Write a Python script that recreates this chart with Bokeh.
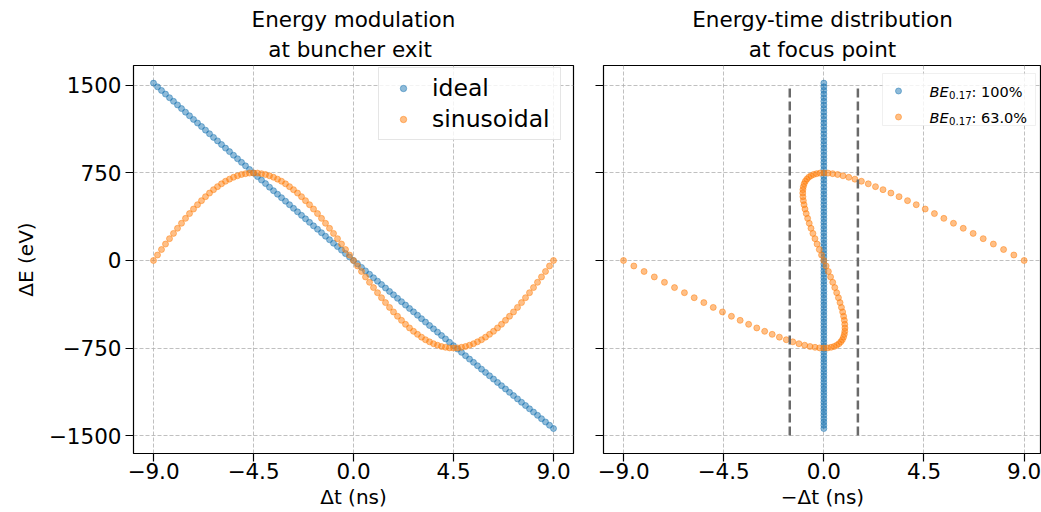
from bokeh.plotting import figure
from bokeh.layouts import row
from bokeh.models import FixedTicker, Range1d, Legend, LegendItem, Label, Title, BoxAnnotation
from bokeh.embed import file_html
from bokeh.resources import INLINE

# ---------------- data ----------------
# time offsets of the macro-particles at buncher exit (ns)
t_ns = [-9.00, -8.82, -8.64, -8.46, -8.28, -8.10, -7.92, -7.74, -7.56, -7.38,
        -7.20, -7.02, -6.84, -6.66, -6.48, -6.30, -6.12, -5.94, -5.76, -5.58,
        -5.40, -5.22, -5.04, -4.86, -4.68, -4.50, -4.32, -4.14, -3.96, -3.78,
        -3.60, -3.42, -3.24, -3.06, -2.88, -2.70, -2.52, -2.34, -2.16, -1.98,
        -1.80, -1.62, -1.44, -1.26, -1.08, -0.90, -0.72, -0.54, -0.36, -0.18,
        0.00, 0.18, 0.36, 0.54, 0.72, 0.90, 1.08, 1.26, 1.44, 1.62,
        1.80, 1.98, 2.16, 2.34, 2.52, 2.70, 2.88, 3.06, 3.24, 3.42,
        3.60, 3.78, 3.96, 4.14, 4.32, 4.50, 4.68, 4.86, 5.04, 5.22,
        5.40, 5.58, 5.76, 5.94, 6.12, 6.30, 6.48, 6.66, 6.84, 7.02,
        7.20, 7.38, 7.56, 7.74, 7.92, 8.10, 8.28, 8.46, 8.64, 8.82, 9.00]

# energy offsets, ideal modulation (eV)
E_ideal = [1520, 1488, 1457, 1426, 1395, 1364, 1333, 1302, 1271, 1240,
           1209, 1178, 1148, 1117, 1086, 1055, 1025, 994, 963, 933,
           902, 872, 841, 811, 780, 750, 719, 689, 659, 628,
           598, 568, 538, 508, 478, 447, 417, 387, 357, 327,
           297, 268, 238, 208, 178, 148, 119, 89, 59, 30,
           0, -30, -59, -89, -118, -148, -177, -206, -236, -265,
           -294, -324, -353, -382, -411, -440, -469, -499, -528, -557,
           -586, -614, -643, -672, -701, -730, -759, -787, -816, -845,
           -873, -902, -931, -959, -988, -1016, -1045, -1073, -1101, -1130,
           -1158, -1186, -1215, -1243, -1271, -1299, -1327, -1356, -1384, -1412, -1440]

# energy offsets, sinusoidal modulation (eV)
E_sin = [0, 47, 94, 141, 187, 232, 276, 319, 361, 402,
         441, 478, 513, 547, 578, 607, 633, 657, 679, 697,
         713, 726, 737, 744, 749, 750, 749, 744, 737, 726,
         713, 697, 679, 657, 633, 607, 578, 547, 513, 478,
         441, 402, 361, 319, 276, 232, 187, 141, 94, 47,
         0, -47, -94, -141, -187, -232, -276, -319, -361, -402,
         -441, -478, -513, -547, -578, -607, -633, -657, -679, -697,
         -713, -726, -737, -744, -749, -750, -749, -744, -737, -726,
         -713, -697, -679, -657, -633, -607, -578, -547, -513, -478,
         -441, -402, -361, -319, -276, -232, -187, -141, -94, -47, 0]

# -delta t at the focus point (ns)
ideal_focus_ns = [0.0] * 101
sin_focus_ns = [9.000, 8.537, 8.076, 7.617, 7.161, 6.709, 6.264, 5.824, 5.392, 4.969,
                4.555, 4.152, 3.760, 3.380, 3.013, 2.659, 2.321, 1.997, 1.688, 1.396,
                1.120, 0.861, 0.620, 0.396, 0.189, 0.000, -0.171, -0.325, -0.460, -0.579,
                -0.680, -0.764, -0.832, -0.883, -0.920, -0.941, -0.947, -0.940, -0.921, -0.888,
                -0.845, -0.791, -0.728, -0.656, -0.577, -0.491, -0.399, -0.303, -0.204, -0.103,
                0.000, 0.103, 0.204, 0.303, 0.399, 0.491, 0.577, 0.656, 0.728, 0.791,
                0.845, 0.888, 0.921, 0.940, 0.947, 0.941, 0.920, 0.883, 0.832, 0.764,
                0.680, 0.579, 0.460, 0.325, 0.171, 0.000, -0.189, -0.396, -0.620, -0.861,
                -1.120, -1.396, -1.688, -1.997, -2.321, -2.659, -3.013, -3.380, -3.760, -4.152,
                -4.555, -4.969, -5.392, -5.824, -6.264, -6.709, -7.161, -7.617, -8.076, -8.537, -9.000]

# bunching window edges (ns) and their vertical extent (eV)
window_edges_ns = [-1.53, 1.53]
window_E_low = [-1500, -1500]
window_E_high = [1500, 1500]

legend_left = ["ideal", "sinusoidal"]
legend_right_values = [": 100%", ": 63.0%"]

titles_left = ["Energy modulation", " at buncher exit"]
titles_right = ["Energy-time distribution", "at focus point"]

x_ticks = [-9, -4.5, 0, 4.5, 9]
x_tick_labels = ["\u22129.0", "\u22124.5", "0.0", "4.5", "9.0"]
y_ticks = [-1500, -750, 0, 750, 1500]
y_tick_labels = ["\u22121500", "\u2212750", "0", "750", "1500"]

# ---------------- styling ----------------
FONT = "DejaVu Sans"
BLUE = "#1f77b4"
ORANGE = "#ff7f0e"
TEXT = "#000000"
TICK_FS = "21.5px"
LABEL_FS = "20px"
TITLE_FS = "21.5px"

y_range = Range1d(-1654, 1671)


def style(p, ylabels=True):
    p.outline_line_color = "black"
    p.outline_line_width = 1.2
    p.outline_line_alpha = 1.0
    p.background_fill_color = "white"
    p.border_fill_color = "white"
    p.xaxis.ticker = FixedTicker(ticks=x_ticks)
    p.yaxis.ticker = FixedTicker(ticks=y_ticks)
    p.xaxis.major_label_overrides = {v: s for v, s in zip(x_ticks, x_tick_labels)}
    if ylabels:
        p.yaxis.major_label_overrides = {v: s for v, s in zip(y_ticks, y_tick_labels)}
    else:
        p.yaxis.major_label_overrides = {v: "" for v in y_ticks}
    for ax in (p.xaxis, p.yaxis):
        ax.axis_line_color = None
        ax.major_tick_out = 8
        ax.major_tick_in = 0
        ax.minor_tick_out = 0
        ax.minor_tick_in = 0
        ax.major_tick_line_color = "black"
        ax.major_tick_line_width = 1.2
        ax.major_label_text_font = FONT
        ax.major_label_text_font_size = TICK_FS
        ax.major_label_text_color = TEXT
        ax.axis_label_text_font = FONT
        ax.axis_label_text_font_size = LABEL_FS
        ax.axis_label_text_font_style = "normal"
        ax.axis_label_text_color = TEXT
    p.xaxis.major_label_standoff = 1
    p.xaxis.axis_label_standoff = 3
    p.yaxis.major_label_standoff = 4
    p.yaxis.axis_label_standoff = 8
    p.grid.grid_line_color = "#b0b0b0"
    p.grid.grid_line_dash = "4 2"
    p.grid.grid_line_width = 1
    p.grid.grid_line_alpha = 0.8


def add_titles(p, lines):
    # the first title added sits nearest the frame
    for i, txt in enumerate(reversed(lines)):
        p.add_layout(Title(text=txt, align="center", text_font=FONT, text_font_size=TITLE_FS,
                           text_font_style="normal", text_color=TEXT, text_line_height=1.0,
                           standoff=(7 if i == 0 else 0)), "above")


# ---------------- left panel ----------------
p1 = figure(frame_width=440, frame_height=388, min_border_left=133, min_border_right=15,
            min_border_top=65, min_border_bottom=59,
            x_range=Range1d(-9.9, 9.9), y_range=y_range,
            output_backend="svg", toolbar_location=None)
style(p1, ylabels=True)
add_titles(p1, titles_left)
p1.xaxis.axis_label = "\u0394t (ns)"
p1.yaxis.axis_label = "\u0394E (eV)"

r_ideal = p1.scatter(t_ns, E_ideal, size=6, color=BLUE, fill_alpha=0.5, line_alpha=0.5)
r_sin = p1.scatter(t_ns, E_sin, size=6, color=ORANGE, fill_alpha=0.5, line_alpha=0.5)

leg1 = Legend(items=[LegendItem(label=legend_left[0], renderers=[r_ideal]),
                     LegendItem(label=legend_left[1], renderers=[r_sin])],
              location=(245, 313), margin=0, padding=6, spacing=3,
              glyph_width=36, glyph_height=16, label_height=24, label_width=122,
              label_standoff=11,
              label_text_font=FONT, label_text_font_size="23.5px", label_text_color=TEXT,
              border_line_color="#cccccc", border_line_width=1,
              background_fill_color="white", background_fill_alpha=0.8)
p1.add_layout(leg1)

# ---------------- right panel ----------------
p2 = figure(frame_width=438, frame_height=388, min_border_left=15, min_border_right=0,
            min_border_top=65, min_border_bottom=59,
            x_range=Range1d(-9.9, 9.78), y_range=y_range,
            output_backend="svg", toolbar_location=None)
style(p2, ylabels=False)
add_titles(p2, titles_right)
p2.xaxis.axis_label = "\u2212\u0394t (ns)"

# legend frame drawn under the glyphs but over the grid
p2.add_layout(BoxAnnotation(left=279, right=432, bottom=328, top=380,
                            left_units="screen", right_units="screen",
                            bottom_units="screen", top_units="screen",
                            fill_color="white", fill_alpha=0.8,
                            line_color="#cccccc", line_width=1, level="underlay"))

r2_ideal = p2.scatter(ideal_focus_ns, E_ideal, size=6, color=BLUE, fill_alpha=0.5, line_alpha=0.5)
r2_sin = p2.scatter(sin_focus_ns, E_sin, size=6, color=ORANGE, fill_alpha=0.5, line_alpha=0.5)
p2.segment(x0=window_edges_ns, y0=window_E_low, x1=window_edges_ns, y1=window_E_high,
           line_color="#6a6a6a", line_width=2.5, line_dash="9 4")

leg2 = Legend(items=[LegendItem(label=" ", renderers=[r2_ideal]),
                     LegendItem(label=" ", renderers=[r2_sin])],
              location=(279, 328), margin=0, padding=4, spacing=8,
              glyph_width=32, glyph_height=15, label_height=18, label_width=102,
              label_standoff=11,
              label_text_font=FONT, label_text_font_size="14px",
              border_line_color=None, background_fill_alpha=0.0)
p2.add_layout(leg2)

# rich legend text: italic BE, subscript 0.17, then value
LFS = 14.5
row_baselines = [362, 336]
for yb, val in zip(row_baselines, legend_right_values):
    p2.add_layout(Label(x=326, y=yb, x_units="screen", y_units="screen", text="BE",
                        text_font=FONT, text_font_style="italic", text_font_size=f"{LFS}px",
                        text_color=TEXT, text_baseline="alphabetic", text_align="left"))
    p2.add_layout(Label(x=345.5, y=yb - 3, x_units="screen", y_units="screen", text="0.17",
                        text_font=FONT, text_font_size="10.2px",
                        text_color=TEXT, text_baseline="alphabetic", text_align="left"))
    p2.add_layout(Label(x=368, y=yb, x_units="screen", y_units="screen", text=val,
                        text_font=FONT, text_font_size=f"{LFS}px",
                        text_color=TEXT, text_baseline="alphabetic", text_align="left"))

layout = row(p1, p2, spacing=0)
open("out.html", "w").write(file_html(layout, INLINE))
